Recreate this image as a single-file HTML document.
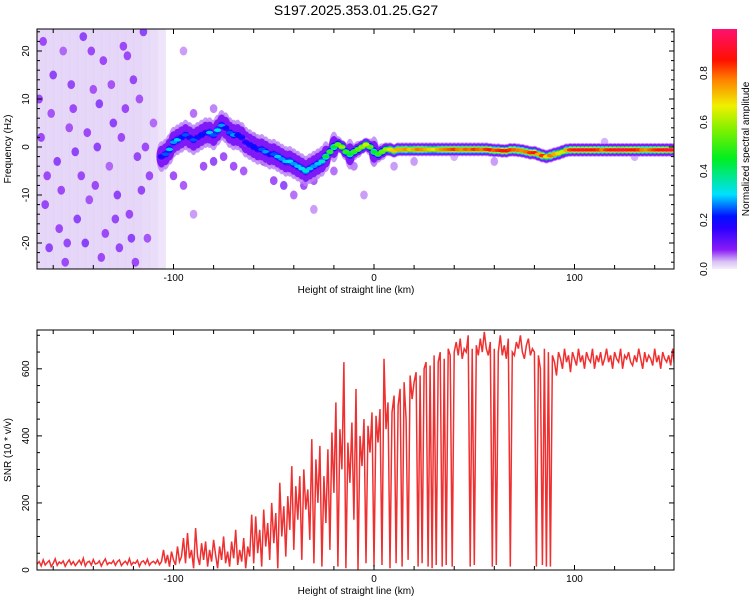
<!DOCTYPE html>
<html><head><meta charset="utf-8"><style>
body{margin:0;background:#fff;}
svg text{font-family:"Liberation Sans",sans-serif;fill:#000;}
</style></head><body>
<svg id="chart" width="750" height="600" xmlns="http://www.w3.org/2000/svg">
<defs>
<linearGradient id="cbg" x1="0" y1="1" x2="0" y2="0">
<stop offset="0" stop-color="#f4eefc"/><stop offset="0.03" stop-color="#d9c2f5"/>
<stop offset="0.08" stop-color="#8a1cf6"/><stop offset="0.17" stop-color="#2a00ff"/>
<stop offset="0.22" stop-color="#0010ff"/><stop offset="0.31" stop-color="#00e0ff"/>
<stop offset="0.46" stop-color="#00ee20"/><stop offset="0.58" stop-color="#80f000"/>
<stop offset="0.68" stop-color="#f0f000"/><stop offset="0.79" stop-color="#ff8000"/>
<stop offset="0.87" stop-color="#ff1000"/><stop offset="1" stop-color="#ff1070"/>
</linearGradient>
<clipPath id="clipTop"><rect x="37" y="29" width="637" height="240"/></clipPath>
<clipPath id="clipBot"><rect x="37" y="330" width="637" height="240"/></clipPath>
</defs>
<text x="356" y="15" font-size="14" text-anchor="middle">S197.2025.353.01.25.G27</text>
<g id="topMarks" clip-path="url(#clipTop)"></g>
<g id="botMarks" clip-path="url(#clipBot)"></g>
<g id="axes"></g>
<rect x="712" y="29" width="25" height="240" fill="url(#cbg)"/>
<text transform="translate(749,149) rotate(-90)" font-size="10" text-anchor="middle">Normalized spectral amplitude</text>
<text transform="translate(11,149) rotate(-90)" font-size="10" text-anchor="middle">Frequency (Hz)</text>
<text transform="translate(11,450) rotate(-90)" font-size="10" text-anchor="middle">SNR (10 * v/v)</text>
<text x="356" y="293" font-size="10" text-anchor="middle">Height of straight line (km)</text>
<text x="356" y="594" font-size="10" text-anchor="middle">Height of straight line (km)</text>
</svg>
<script>
const snrStartKm = -168;
const snrValues = [18,25,12,30,15,22,28,10,20,33,14,24,19,27,11,22,30,16,25,13,21,29,17,35,12,23,26,15,31,18,20,27,12,24,33,16,22,19,28,14,25,30,13,21,26,17,34,15,23,20,29,11,24,27,18,32,14,22,26,19,30,16,25,
60,20,45,10,55,30,15,70,25,40,95,20,110,35,60,5,125,40,15,80,30,85,10,60,25,90,45,5,70,30,100,20,55,10,85,35,120,15,60,25,95,5,70,40,165,
20,160,50,120,10,180,70,140,30,200,80,170,5,260,100,190,40,220,120,310,60,250,150,280,30,300,180,240,90,390,20,330,200,370,10,280,140,360,60,410,
230,500,10,420,300,620,5,380,260,440,150,540,0,400,310,450,20,430,350,470,10,460,380,480,15,630,420,500,5,470,520,20,490,540,10,560,450,30,580,510,
560,590,10,580,20,600,620,10,610,5,640,15,620,650,10,630,15,660,640,10,650,680,640,690,630,660,650,700,10,660,
15,670,640,690,650,710,660,640,680,10,660,15,650,700,640,670,630,690,10,650,640,680,660,700,650,630,670,690,640,660,650,10,640,600,15,660,10,650,10,640,
620,580,650,630,600,660,620,640,590,650,630,610,660,620,640,600,650,630,620,660,600,640,620,650,610,630,660,620,640,600,650,630,620,660,600,640,630,650,620,610,640,620,660,630,600,650,620,640,630,610,660,620,640,600,650,630,620,640,610,660,600];
const ridgeStartKm = -106;
const ridgeStepKm = 2;
const ridgeFreq = [-2,-1.5,-0.5,1,1.5,2,2.5,2,1.5,2, 2.5,3,3,2.5,3.5,4.5,4,3,2.5,2.5, 2,1,0.5,0,-0.5,-0.5,-1,-1.5,-1.5,-2,
-2.5,-3,-3,-3.5,-4,-4.5,-5,-4.5,-4,-3.5, -3,-2,-1,0,0.5,0,-1,-1.5,-1,-0.5, 0,0.5,0,-1,-1.5,-1,-0.5,-0.5,-0.8,-0.5,
-0.5,-0.5,-0.5,-0.5,-0.5,-0.5,-0.5,-0.5,-0.5,-0.5, -0.5,-0.5,-0.5,-0.5,-0.5,-0.5,-0.5,-0.5,-0.5,-0.5,
-0.5,-0.5,-0.6,-0.7,-0.7,-0.8,-0.8,-0.6,-0.6,-0.7, -0.8,-1,-1.2,-1.2,-1.5,-1.8,-2,-1.8,-1.5,-1.3,
-1,-0.7,-0.6,-0.6,-0.6,-0.6,-0.6,-0.6,-0.6,-0.6, -0.6,-0.6,-0.6,-0.6,-0.6,-0.6,-0.6,-0.6,-0.6,-0.6, -0.6,-0.6,-0.6,-0.6,-0.6,-0.6,-0.6,-0.6,-0.6];
const ridgeAmp = [0.2,0.25,0.3,0.28,0.3,0.22,0.25,0.2,0.25,0.2, 0.22,0.2,0.3,0.25,0.32,0.28,0.2,0.25,0.28,0.22,
0.2,0.18,0.2,0.22,0.2,0.25,0.28,0.22,0.25,0.3, 0.28,0.3,0.32,0.28,0.3,0.32,0.35,0.3,0.28,0.3,
0.35,0.45,0.5,0.45,0.55,0.6,0.5,0.45,0.5,0.55, 0.6,0.65,0.55,0.45,0.5,0.55,0.6,0.7,0.72,0.75,
0.75,0.78,0.72,0.75,0.8,0.78,0.75,0.72,0.7,0.75, 0.78,0.8,0.82,0.85,0.8,0.78,0.82,0.8,0.85,0.82,
0.8,0.85,0.88,0.82,0.85,0.9,0.88,0.85,0.82,0.8, 0.78,0.8,0.85,0.9,0.75,0.85,0.7,0.8,0.75,0.7,
0.65,0.75,0.85,0.9,0.92,0.93,0.92,0.9,0.88,0.85, 0.8,0.85,0.9,0.92,0.95,0.95,0.93,0.9,0.88,0.85,
0.8,0.78,0.82,0.85,0.9,0.92,0.95,0.95,0.95];
const noiseBinStartKm = -168;
const noiseBinWidthKm = 4;
const noiseFloor = [0.025,0.025,0.025,0.025,0.025,0.025,0.025,0.025,0.025,0.025,0.025,0.025,0.025,0.022,0.02,0.012];
const blobKm = [-165,-160,-155,-150,-145,-140,-135,-130,-125,-120,-115,-166,-158,-152,-146,-138,-132,-126,-118,-112,-164,-156,-148,-142,-134,-128,-122,-116,-162,-154,-144,-136,-127,-119,-113,-167,-161,-151,-143,-137,-124,-117,-110,-157,-149,-139,-131,-121,-163,-153,-141,-129,-123,-114,
-100,-95,-90,-85,-80,-75,-70,-65,-60,-55,-50,-45,-40,-35,-30,-20,-10,0,10,-95,-90,-80,-30,-5,20,40,60,90,115,130];
const blobHz = [22,15,20,8,23,12,18,5,21,14,24,2,-3,4,-6,0,-4,2,-2,-6,-12,-9,-15,-11,-18,-10,-14,-9,-21,-24,-20,-23,-21,-24,-19,10,7,13,3,9,8,10,5,-17,-1,-8,13,-19,-6,-20,20,-15,19,0,
-6,-8,7,-4,-3,-2,-4,-5,2,-3,-7,-8,-10,-8,-7,-5,-4,-3,-4,20,-14,8,-13,-10,-3,-2,-3,-2,1,-2];
const blobAmp = [0.1,0.12,0.08,0.1,0.12,0.09,0.1,0.12,0.1,0.11,0.12,0.1,0.12,0.09,0.1,0.12,0.08,0.1,0.11,0.1,0.11,0.1,0.12,0.09,0.1,0.12,0.1,0.11,0.12,0.1,0.13,0.1,0.11,0.1,0.09,0.1,0.09,0.11,0.1,0.12,0.1,0.09,0.08,0.1,0.12,0.1,0.09,0.12,0.1,0.11,0.1,0.11,0.1,0.1,
0.1,0.09,0.08,0.1,0.12,0.1,0.1,0.09,0.08,0.1,0.1,0.12,0.08,0.1,0.09,0.08,0.07,0.07,0.06,0.06,0.06,0.07,0.06,0.06,0.06,0.05,0.06,0.05,0.05,0.05];
const xTicks = [-100,0,100];
const topYTicks = [-20,-10,0,10,20];
const botYTicks = [0,200,400,600];
const cbTicks = [0,0.2,0.4,0.6,0.8];

const NS='http://www.w3.org/2000/svg';
const xS = km => 374 + km*2.005;
const yT = hz => 147 - hz*4.8;
const yB = v => 570 - v*0.3353;
const yCb = a => 269 - a*(240/0.98);
const stops=[[0,[244,238,252]],[0.03,[217,194,245]],[0.08,[138,28,246]],[0.17,[42,0,255]],[0.22,[0,16,255]],[0.31,[0,224,255]],[0.46,[0,238,32]],[0.58,[128,240,0]],[0.68,[240,240,0]],[0.79,[255,128,0]],[0.87,[255,16,0]],[1,[255,16,112]]];
function cmap(a){a=Math.max(0,Math.min(1,a));for(let i=1;i<stops.length;i++){if(a<=stops[i][0]){const [p0,c0]=stops[i-1],[p1,c1]=stops[i];const t=(a-p0)/(p1-p0);return 'rgb('+c0.map((c,j)=>Math.round(c+(c1[j]-c)*t)).join(',')+')';}}return 'rgb(255,16,112)';}
function mk(tag,attrs,parent){const e=document.createElementNS(NS,tag);for(const k in attrs)e.setAttribute(k,attrs[k]);parent.appendChild(e);return e;}
const topG=document.getElementById('topMarks'), botG=document.getElementById('botMarks'), ax=document.getElementById('axes');

noiseFloor.forEach((a,i)=>{
  const k0=noiseBinStartKm+i*noiseBinWidthKm;
  const r=mk('rect',{x:xS(k0),y:29,width:xS(k0+noiseBinWidthKm)-xS(k0)+0.5,height:240,fill:cmap(a),opacity:0.75},topG);
  
  
});
blobKm.forEach((k,i)=>{
  const e=mk('ellipse',{cx:xS(k),cy:yT(blobHz[i]),rx:3.8,ry:4.5,fill:cmap(blobAmp[i]*0.85),opacity:0.75},topG);
  
  
});
const layers=[[0.05,1.4],[0.09,1.0],[0.4,0.55],[0.75,0.38],[1,0.22]];
layers.forEach((L,li)=>{
  ridgeFreq.forEach((f,i)=>{
    const k=ridgeStartKm+i*ridgeStepKm, a=ridgeAmp[i];
    const spread = a<0.5 ? 11 : 6;
    const amp = li<2 ? L[0] : a*L[0];
    let ry = li<2 ? spread*L[1] : Math.max(1.8, spread*L[1]*(a<0.5?0.75:1.2));
    if(li===0 && a>=0.6) ry = 7;
    const e=mk('ellipse',{cx:xS(k),cy:yT(f),rx:li<2?5:3.6,ry:ry,fill:cmap(amp),opacity:li===0?0.8:1},topG);
    
    
  });
});
const pts=snrValues.map((v,i)=>xS(snrStartKm+i).toFixed(1)+','+yB(v).toFixed(1)).join(' ');
const line=mk('polyline',{points:pts,fill:'none',stroke:'#f03030','stroke-width':1.5},botG);



[[29,269],[330,570]].forEach(([y0,y1],pi)=>{
  const fr=mk('rect',{x:37,y:y0,width:637,height:y1-y0,fill:'none',stroke:'#000','stroke-width':1},ax);
  
  
  for(let k=-160;k<=140;k+=20){const x=xS(k);const len=(k%100===0)?5:4;
    mk('line',{x1:x,y1:y1,x2:x,y2:y1-len,stroke:'#000'},ax);mk('line',{x1:x,y1:y0,x2:x,y2:y0+len,stroke:'#000'},ax);}
  xTicks.forEach(k=>{const t=mk('text',{x:xS(k),y:y1+12,'font-size':10,'text-anchor':'middle'},ax);t.textContent=k;
    
    });
});
for(let h=-24;h<=24;h+=2){const y=yT(h);const len=(h%10===0)?5:3;mk('line',{x1:37,y1:y,x2:37+len,y2:y,stroke:'#000'},ax);mk('line',{x1:674,y1:y,x2:674-len,y2:y,stroke:'#000'},ax);}
topYTicks.forEach(h=>{const t=mk('text',{transform:`translate(29,${yT(h)}) rotate(-90)`,'font-size':10,'text-anchor':'middle'},ax);t.textContent=h;
  
  });
for(let v=0;v<=700;v+=50){const y=yB(v);const len=(v%200===0)?5:3;mk('line',{x1:37,y1:y,x2:37+len,y2:y,stroke:'#000'},ax);mk('line',{x1:674,y1:y,x2:674-len,y2:y,stroke:'#000'},ax);}
botYTicks.forEach(v=>{const t=mk('text',{transform:`translate(29,${yB(v)}) rotate(-90)`,'font-size':10,'text-anchor':'middle'},ax);t.textContent=v;
  
  });
cbTicks.forEach(a=>{const t=mk('text',{transform:`translate(707,${yCb(a)}) rotate(-90)`,'font-size':10,'text-anchor':'middle'},ax);t.textContent=a.toFixed(1);
  
  });
</script>
</body></html>
